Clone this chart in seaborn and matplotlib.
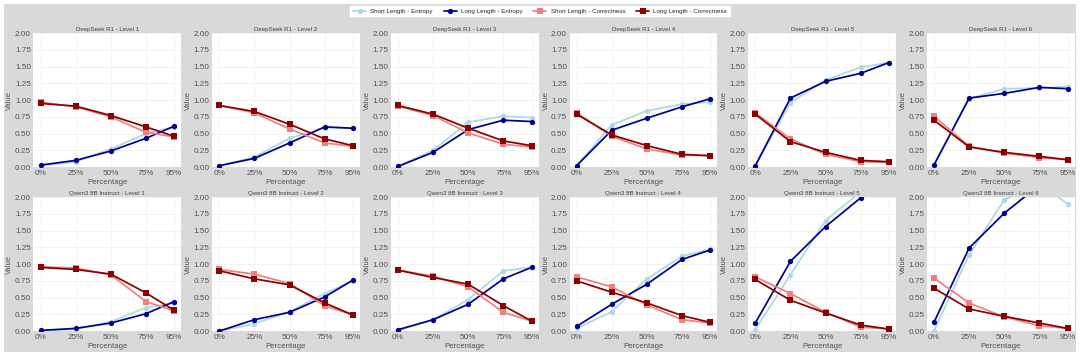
import matplotlib
matplotlib.use("Agg")
import matplotlib.pyplot as plt
import seaborn as sns

# x positions (percentage of reasoning kept)
pcts = [0, 25, 50, 75, 95]
pct_labels = ["0%", "25%", "50%", "75%", "95%"]
levels = [1, 2, 3, 4, 5, 6]

# DeepSeek R1, one row per level
ds_short_entropy = [
    [0.02, 0.08, 0.27, 0.50, 0.60],
    [0.02, 0.15, 0.43, 0.59, 0.58],
    [0.01, 0.25, 0.67, 0.76, 0.74],
    [0.02, 0.63, 0.84, 0.94, 0.97],
    [0.02, 0.96, 1.30, 1.49, 1.56],
    [0.03, 1.02, 1.17, 1.18, 1.20],
]
ds_long_entropy = [
    [0.03, 0.10, 0.24, 0.43, 0.61],
    [0.02, 0.13, 0.36, 0.60, 0.58],
    [0.01, 0.22, 0.56, 0.70, 0.68],
    [0.02, 0.55, 0.73, 0.90, 1.02],
    [0.02, 1.03, 1.28, 1.40, 1.56],
    [0.03, 1.03, 1.10, 1.19, 1.17],
]
ds_short_correct = [
    [0.97, 0.90, 0.75, 0.52, 0.45],
    [0.92, 0.81, 0.57, 0.36, 0.31],
    [0.91, 0.77, 0.51, 0.34, 0.30],
    [0.81, 0.46, 0.27, 0.18, 0.17],
    [0.81, 0.42, 0.19, 0.08, 0.07],
    [0.76, 0.31, 0.21, 0.14, 0.11],
]
ds_long_correct = [
    [0.95, 0.91, 0.77, 0.60, 0.46],
    [0.92, 0.83, 0.64, 0.42, 0.32],
    [0.92, 0.79, 0.58, 0.39, 0.32],
    [0.79, 0.48, 0.32, 0.19, 0.17],
    [0.79, 0.38, 0.22, 0.10, 0.08],
    [0.70, 0.30, 0.22, 0.16, 0.11],
]

# Qwen3 8B Instruct, one row per level
qw_short_entropy = [
    [0.00, 0.03, 0.14, 0.35, 0.42],
    [0.00, 0.11, 0.29, 0.56, 0.75],
    [0.01, 0.17, 0.47, 0.90, 0.95],
    [0.04, 0.29, 0.78, 1.12, 1.22],
    [0.02, 0.84, 1.65, 2.08, 2.20],
    [0.00, 1.14, 1.96, 2.20, 1.90],
]
qw_long_entropy = [
    [0.01, 0.04, 0.12, 0.26, 0.44],
    [0.00, 0.17, 0.28, 0.51, 0.76],
    [0.02, 0.17, 0.40, 0.78, 0.95],
    [0.07, 0.40, 0.70, 1.07, 1.21],
    [0.12, 1.04, 1.56, 1.99, 2.30],
    [0.13, 1.24, 1.76, 2.18, 2.30],
]
qw_short_correct = [
    [0.96, 0.94, 0.84, 0.44, 0.30],
    [0.92, 0.85, 0.71, 0.38, 0.24],
    [0.91, 0.82, 0.66, 0.28, 0.15],
    [0.81, 0.66, 0.39, 0.17, 0.12],
    [0.81, 0.56, 0.28, 0.06, 0.03],
    [0.79, 0.42, 0.21, 0.08, 0.04],
]
qw_long_correct = [
    [0.95, 0.92, 0.85, 0.57, 0.31],
    [0.90, 0.78, 0.69, 0.42, 0.24],
    [0.91, 0.80, 0.70, 0.38, 0.15],
    [0.75, 0.58, 0.42, 0.23, 0.13],
    [0.77, 0.46, 0.27, 0.09, 0.03],
    [0.64, 0.33, 0.22, 0.12, 0.04],
]

models = ["DeepSeek R1", "Qwen3 8B Instruct"]
series_names = ["Short Length - Entropy", "Long Length - Entropy",
                "Short Length - Correctness", "Long Length - Correctness"]
series_colors = ["#add8e6", "#00008b", "#f08080", "#8b0000"]
series_markers = ["o", "o", "s", "s"]
model_data = [
    [ds_short_entropy, ds_long_entropy, ds_short_correct, ds_long_correct],
    [qw_short_entropy, qw_long_entropy, qw_short_correct, qw_long_correct],
]

sns.set_theme(style="whitegrid")
plt.rcParams["font.family"] = ["Liberation Sans", "DejaVu Sans"]

fig, axes = plt.subplots(2, 6, figsize=(10.8, 3.56), dpi=100)
fig.patch.set_facecolor("#d9d9d9")
fig.patch.set_edgecolor("white")
fig.patch.set_linewidth(4.5)
fig.subplots_adjust(left=0.031, right=0.995, top=0.907, bottom=0.07,
                    wspace=0.21, hspace=0.224)

for r, model in enumerate(models):
    for c, lvl in enumerate(levels):
        ax = axes[r, c]
        for name, col, mk, data in zip(series_names, series_colors,
                                       series_markers, model_data[r]):
            sns.lineplot(x=pcts, y=data[c], color=col, marker=mk, markersize=3.8,
                         markeredgewidth=0, linewidth=1.25, label=name, ax=ax,
                         legend=False)
        ax.set_ylim(0, 2.0)
        ax.set_xlim(-5, 100)
        ax.set_xticks(pcts)
        ax.set_xticklabels(pct_labels)
        ax.set_yticks([0, 0.25, 0.5, 0.75, 1.0, 1.25, 1.5, 1.75, 2.0])
        ax.set_yticklabels([f"{v:.2f}" for v in ax.get_yticks()])
        ax.tick_params(labelsize=5.9, colors="#555555", pad=1.8, length=0)
        ax.set_title(f"{model} - Level {lvl}", fontsize=4.4, color="#444444", pad=1.8)
        ax.set_xlabel("Percentage", fontsize=5.7, color="#555555", labelpad=1.5)
        ax.set_ylabel("Value", fontsize=5.4, color="#555555", labelpad=1)
        ax.grid(color="#f2f2f2", linewidth=0.6)
        for s in ax.spines.values():
            s.set_visible(False)

handles, labels = axes[0, 0].get_legend_handles_labels()
fig.legend(handles, labels, loc="upper center", ncol=4, bbox_to_anchor=(0.5, 0.992),
           fontsize=4.5, frameon=True, facecolor="white", edgecolor="white",
           framealpha=1, handlelength=2.1, columnspacing=1.75, borderpad=0.4,
           handletextpad=0.65, fancybox=False)

fig.savefig("out.png", dpi=100, facecolor=fig.get_facecolor(),
            edgecolor=fig.patch.get_edgecolor())
